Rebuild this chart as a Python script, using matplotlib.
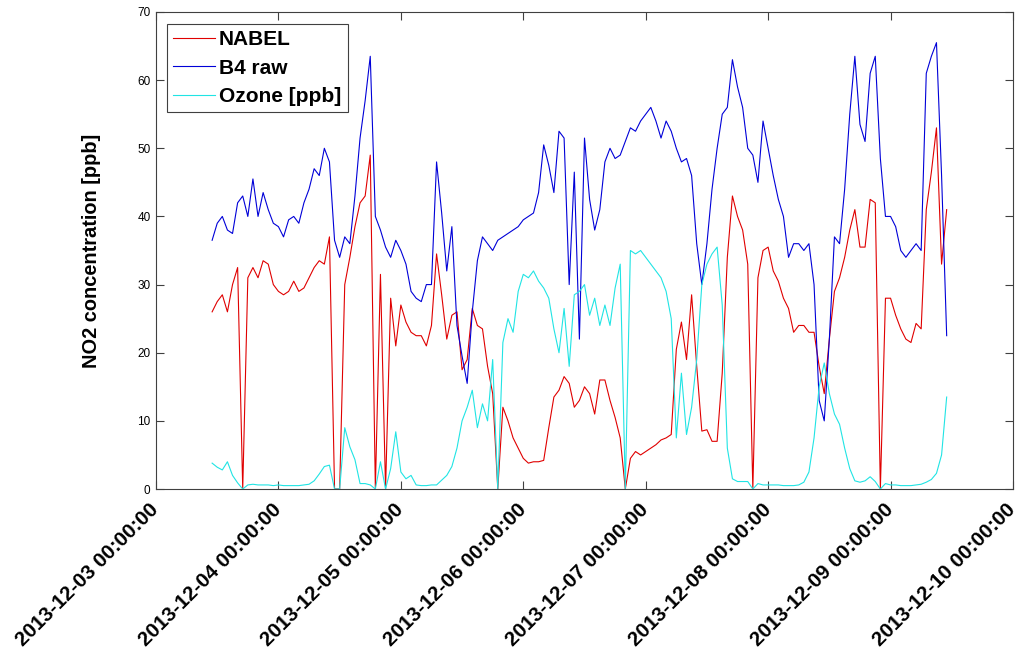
"""
NO2 comparison plot: NABEL reference vs. raw B4 sensor, with ozone.
Hourly values read off the original figure, 2013-12-03 11:00 onward.
"""

import matplotlib
matplotlib.use("Agg")
import matplotlib.pyplot as plt
import matplotlib.dates as mdates
import pandas as pd

START = "2013-12-03 11:00"

# NABEL reference NO2 (ppb); zeros are station dropouts
nabel = [26, 27.5, 28.5, 26, 30, 32.5, 0, 31, 32.5, 31, 33.5, 33, 30, 29,
         28.5, 29, 30.5, 29, 29.5, 31, 32.5, 33.5, 33, 37, 0, 0, 30, 34,
         38.5, 42, 43, 49, 0, 31.5, 0, 28, 21, 27, 24.5, 23, 22.5, 22.5,
         21, 24, 34.5, 28.5, 22, 25.5, 26, 17.5, 19, 26.5, 24, 23.5, 18,
         14, 0, 12, 10, 7.5, 6, 4.5, 3.8, 4, 4, 4.2, 9, 13.5, 14.5, 16.5,
         15.5, 12, 13, 15, 14, 11, 16, 16, 13, 10.5, 7.5, 0, 4.5, 5.5, 5,
         5.5, 6, 6.5, 7.2, 7.5, 8, 20.5, 24.5, 19, 28.5, 18, 8.5, 8.7, 7,
         7, 17, 34, 43, 40, 38, 33, 0, 31, 35, 35.5, 32, 30.5, 28, 26.5,
         23, 24, 24, 23, 23, 18, 14, 22, 29, 31, 34, 38, 41, 35.5, 35.5,
         42.5, 42, 0, 28, 28, 25.5, 23.5, 22, 21.5, 24.3, 23.5, 41, 46.5,
         53, 33, 41]

# B4 raw sensor signal (ppb)
b4_raw = [36.5, 39, 40, 38, 37.5, 42, 43, 40, 45.5, 40, 43.5, 41, 39, 38.5,
          37, 39.5, 40, 39, 42, 44, 47, 46, 50, 48, 36.5, 34, 37, 36, 43,
          51.5, 57, 63.5, 40, 38, 35.5, 34, 36.5, 35, 33, 29, 28, 27.5, 30,
          30, 48, 40.5, 32, 38.5, 24, 19.5, 15.5, 26, 33.5, 37, 36, 35,
          36.5, 37, 37.5, 38, 38.5, 39.5, 40, 40.5, 43.5, 50.5, 47.5, 43.5,
          52.5, 51.5, 30, 46.5, 22, 51.5, 42.5, 38, 41, 48, 50, 48.5, 49,
          51, 53, 52.5, 54, 55, 56, 54, 51.5, 54, 52.5, 50, 48, 48.5, 46,
          36, 30, 36, 44, 50, 55, 56, 63, 59, 56, 50, 49, 45, 54, 50, 46,
          42.5, 40, 34, 36, 36, 35, 36, 30, 13, 10, 22, 37, 36, 44, 55,
          63.5, 53.5, 51, 61, 63.5, 48.5, 40, 40, 38.5, 35, 34, 35, 36, 35,
          61, 63.5, 65.5, 46, 22.5]

# Ozone (ppb)
ozone = [3.8, 3.2, 2.8, 4.0, 2.0, 0.9, 0, 0.6, 0.7, 0.6, 0.6, 0.6, 0.5, 0.6,
         0.5, 0.5, 0.5, 0.5, 0.6, 0.7, 1.2, 2.2, 3.3, 3.5, 0, 0, 9, 6.2,
         4.3, 0.8, 0.8, 0.6, 0, 4, 0, 3, 8.4, 2.5, 1.5, 2.0, 0.6, 0.5, 0.5,
         0.6, 0.6, 1.3, 2, 3.3, 6, 10, 12, 14.5, 9, 12.5, 10, 19, 0, 21.5,
         25, 23, 29, 31.5, 31, 32, 30.5, 29.5, 28, 23.5, 20, 26.5, 18,
         28.5, 29, 30, 25.5, 28, 24, 27, 24, 29.5, 33, 0, 35, 34.5, 35, 34,
         33, 32, 31, 29, 25, 7.5, 17, 8, 12, 19, 30, 33, 34.5, 35.5, 27, 6,
         1.5, 1.1, 1.1, 1.1, 0, 0.8, 0.6, 0.6, 0.6, 0.6, 0.5, 0.5, 0.5,
         0.6, 1.0, 2.5, 7.5, 15, 18.5, 14, 11, 9.5, 6, 3, 1.2, 1, 1.2, 1.8,
         1.1, 0, 0.8, 0.6, 0.6, 0.5, 0.5, 0.5, 0.6, 0.7, 1.0, 1.4, 2.3, 5,
         13.5]

DAY_TICKS = pd.date_range("2013-12-03", "2013-12-10", freq="D")

times = pd.date_range(START, periods=len(nabel), freq="h")

plt.rcParams["font.family"] = ["Liberation Sans", "DejaVu Sans"]

fig = plt.figure(figsize=(10.19, 6.55), dpi=100)
ax = fig.add_axes([0.1531, 0.2534, 0.841, 0.7283])

ax.plot(times, nabel, color="#e00000", lw=0.8, label="NABEL")
ax.plot(times, b4_raw, color="#0000d8", lw=0.8, label="B4 raw")
ax.plot(times, ozone, color="#20e4e4", lw=0.8, label="Ozone [ppb]")

ax.set_xlim(DAY_TICKS[0], DAY_TICKS[-1])
ax.set_ylim(0, 70)
ax.set_yticks(range(0, 71, 10))
ax.set_xticks(DAY_TICKS)
ax.xaxis.set_major_formatter(mdates.DateFormatter("%Y-%m-%d %H:%M:%S"))

ax.tick_params(direction="in", length=6, width=0.8, top=True, right=True,
               colors="#404040", labelcolor="black")
ax.tick_params(axis="y", labelsize=8.5, pad=4)
ax.tick_params(axis="x", labelsize=14.8, pad=13)
for lbl in ax.get_xticklabels():
    lbl.set_rotation(45)
    lbl.set_ha("right")
    lbl.set_va("center")
    lbl.set_rotation_mode("anchor")
    lbl.set_fontweight("bold")
for s in ax.spines.values():
    s.set_color("#404040")
    s.set_linewidth(0.8)

ax.set_ylabel("NO2 concentration [ppb]", fontsize=14.4, fontweight="bold",
              labelpad=26)

leg = ax.legend(loc="upper left", bbox_to_anchor=(0.0128, 0.975),
                borderaxespad=0, fancybox=False, framealpha=1,
                edgecolor="#404040", prop={"size": 15, "weight": "bold"},
                handlelength=2.0, handletextpad=0.2, labelspacing=0.45,
                borderpad=0.3)
leg.get_frame().set_linewidth(0.8)

fig.savefig("out.png", dpi=100)
